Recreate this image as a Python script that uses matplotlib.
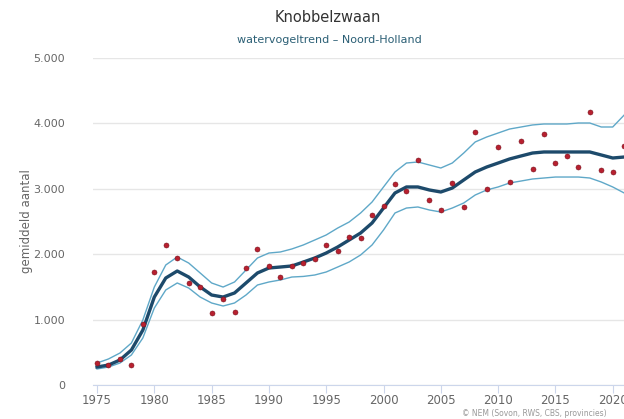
import numpy as np
import matplotlib.pyplot as plt

# data
years = np.arange(1975, 2022)

counts = [336, 300, 398, 306, 933, 1728, 2141, 1942, 1560, 1500,
          1100, 1315, 1116, 1789, 2080, 1820, 1651, 1820, 1865, 1927,
          2141, 2049, 2263, 2248, 2599, 2737, 3073, 2966, 3440, 2829,
          2676, 3089, 2722, 3869, 2997, 3639, 3104, 3731, 3303, 3838,
          3394, 3502, 3333, 4174, 3287, 3257, 3654]

trend = [275, 305, 382, 535, 840, 1345, 1636, 1743, 1651, 1500,
         1376, 1345, 1407, 1560, 1713, 1789, 1804, 1820, 1880, 1942,
         2018, 2110, 2217, 2324, 2477, 2706, 2936, 3028, 3028, 2982,
         2951, 3012, 3135, 3257, 3333, 3394, 3456, 3502, 3547, 3563,
         3563, 3563, 3563, 3563, 3517, 3471, 3486]

upper = [336, 398, 489, 642, 994, 1498, 1835, 1957, 1865, 1713,
         1560, 1498, 1575, 1758, 1942, 2018, 2034, 2080, 2141, 2217,
         2294, 2400, 2492, 2630, 2798, 3028, 3257, 3394, 3410, 3364,
         3318, 3394, 3547, 3716, 3792, 3853, 3914, 3945, 3976, 3991,
         3991, 3991, 4006, 4006, 3945, 3945, 4128]

lower = [245, 275, 336, 459, 719, 1177, 1453, 1560, 1483, 1345,
         1254, 1208, 1254, 1376, 1529, 1575, 1606, 1651, 1660, 1682,
         1728, 1804, 1881, 1988, 2141, 2370, 2630, 2706, 2722, 2676,
         2645, 2706, 2783, 2905, 2982, 3028, 3089, 3119, 3150, 3165,
         3180, 3180, 3180, 3165, 3104, 3028, 2936]

x_ticks = [1975, 1980, 1985, 1990, 1995, 2000, 2005, 2010, 2015, 2020]
y_ticks = [0, 1000, 2000, 3000, 4000, 5000]
y_labels = ["0", "1.000", "2.000", "3.000", "4.000", "5.000"]

W, H = 624, 419
fig = plt.figure(figsize=(W / 100, H / 100), dpi=100)
# axes runs past the right border, the reference is cropped there
left, right, bottom, top = 93, 640, 385, 58
ax = fig.add_axes([left / W, (H - bottom) / H, (right - left) / W, (bottom - top) / H])
ax.set_xlim(1974.65, 2022.38)
ax.set_ylim(0, 5000)

ax.plot(years, upper, color="#5fa8c8", lw=1.0)
ax.plot(years, lower, color="#5fa8c8", lw=1.0)
ax.plot(years, trend, color="#1d4a6b", lw=2.4)
ax.plot(years, counts, "o", color="#b8202f", ms=3.6, mec="#7a1420", mew=0.4)

for s in ["top", "right", "left"]:
    ax.spines[s].set_visible(False)
ax.spines["bottom"].set_color("#ccd6eb")
ax.set_yticks(y_ticks)
ax.set_yticklabels(y_labels)
ax.set_xticks(x_ticks)
ax.grid(axis="y", color="#e6e6e6", lw=1)
ax.set_axisbelow(True)
ax.tick_params(axis="y", length=0, pad=20, labelsize=8, labelcolor="#666666")
ax.tick_params(axis="x", length=6, color="#ccd6eb", pad=0.5, labelsize=8.5, labelcolor="#666666")
ax.set_ylabel("gemiddeld aantal", fontsize=8.5, color="#666666")
ax.yaxis.set_label_coords((33 - left) / (right - left), 0.5)

fig.text(328 / W, 1 - 18 / H, "Knobbelzwaan", ha="center", va="center", fontsize=10.5, color="#333333")
fig.text(329 / W, 1 - 40 / H, "watervogeltrend \u2013 Noord-Holland", ha="center", va="center",
         fontsize=8, color="#2b5f75")
fig.text(462 / W, 1 - 413 / H, "\u00a9 NEM (Sovon, RWS, CBS, provincies)", ha="left", va="center",
         fontsize=5.5, color="#999999")

fig.savefig("out.png", dpi=100)
